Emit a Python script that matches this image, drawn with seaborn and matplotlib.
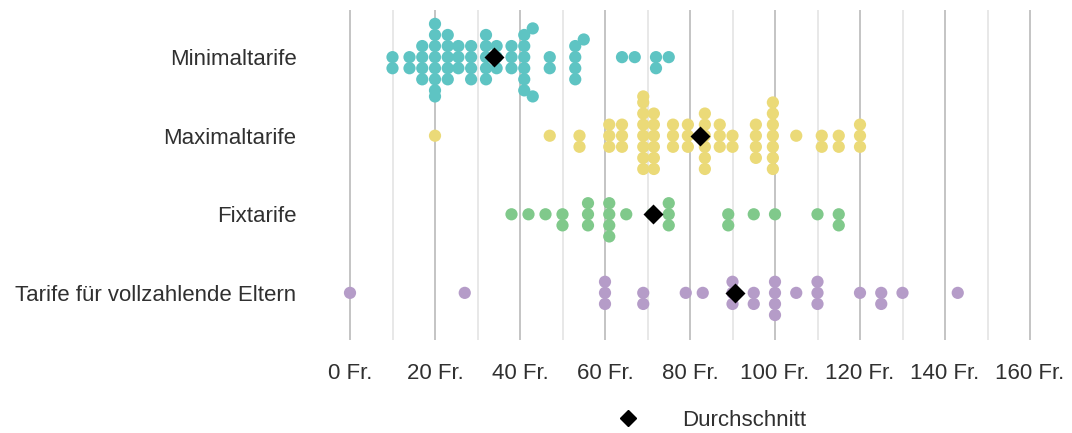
import numpy as np
import pandas as pd
import seaborn as sns
import matplotlib.pyplot as plt
from matplotlib.lines import Line2D
from matplotlib.collections import PathCollection
from seaborn.categorical import Beeswarm

# -------------------- Data (Fr.) --------------------
categories = ["Minimaltarife", "Maximaltarife", "Fixtarife",
              "Tarife für vollzahlende Eltern"]

min_values = [10, 14, 17, 20, 23, 25.5, 28.5, 32, 34.5, 38, 41, 43, 47, 53, 55, 64, 67, 72, 75]
min_counts = [2, 2, 4, 8, 5, 3, 4, 5, 3, 3, 6, 2, 2, 4, 1, 1, 1, 2, 1]

max_values = [20, 47, 54, 61, 64, 69, 71.5, 76, 79.5, 83.5, 87, 90, 95.5, 99.5, 105, 111, 115, 120]
max_counts = [1, 1, 2, 3, 3, 8, 6, 3, 3, 6, 3, 2, 4, 7, 1, 2, 2, 3]

fix_values = [38, 42, 46, 50, 56, 61, 65, 71, 75, 89, 95, 100, 110, 115]
fix_counts = [1, 1, 1, 2, 3, 4, 1, 1, 3, 2, 1, 1, 1, 2]

voll_values = [0, 27, 60, 69, 79, 83, 90, 95, 100, 105, 110, 120, 125, 130, 143]
voll_counts = [1, 1, 3, 2, 1, 1, 3, 2, 4, 1, 3, 1, 2, 1, 1]

colors = ["#5EC4C3", "#EBDA78", "#80C98B", "#B59CC8"]

x_ticks = list(range(0, 161, 20))
x_labels = [f"{t} Fr." for t in x_ticks]

DOT_SIZE = 8.8     # drawn marker diameter (pt)
SWARM_SIZE = 7.6   # spacing used for the swarm, a bit tighter so dots touch

# -------------------- Build long table --------------------
frames = []
for cat, vals, cnts in zip(categories,
                           [min_values, max_values, fix_values, voll_values],
                           [min_counts, max_counts, fix_counts, voll_counts]):
    frames.append(pd.DataFrame({"kategorie": cat,
                                "tarif": np.repeat(vals, cnts)}))
df = pd.concat(frames, ignore_index=True)

# -------------------- Plot --------------------
sns.set_theme(style="white")
plt.rcParams["font.family"] = ["Liberation Sans", "DejaVu Sans"]

fig = plt.figure(figsize=(10.72, 4.33), dpi=100)
ax = fig.add_axes([316 / 1072, 1 - 340 / 433, 748 / 1072, 330 / 433])
ax.set_xlim(-8, 168)
ax.set_ylim(3.6, -0.6)

sns.swarmplot(data=df, x="tarif", y="kategorie", order=categories,
              hue="kategorie", hue_order=categories,
              palette=dict(zip(categories, colors)),
              size=DOT_SIZE, linewidth=0, legend=False, warn_thresh=1, ax=ax)

# wider swarm than seaborn's default 0.8, and slightly overlapping dots
swarm = Beeswarm(width=1.0, orient="y", warn_thresh=1)

def swarm_draw(points, renderer, center):
    points.set_sizes([SWARM_SIZE ** 2])
    swarm(points, center)
    points.set_sizes([DOT_SIZE ** 2])
    PathCollection.draw(points, renderer)

for pts in ax.collections:
    center = pts.get_offsets()[0, 1]
    pts.draw = (lambda r, p=pts, c=center: swarm_draw(p, r, c))

sns.pointplot(data=df, x="tarif", y="kategorie", order=categories,
              estimator="mean", errorbar=None, color="black",
              marker="D", markersize=8, linestyle="none", ax=ax)
for line in ax.lines:
    line.set_zorder(10)

ax.set_xlim(-8, 168)
ax.set_ylim(3.6, -0.6)

ax.set_xticks(x_ticks)
ax.set_xticklabels(x_labels)
ax.set_xticks(range(10, 160, 20), minor=True)
ax.grid(axis="x", which="major", color="#c4c4c4", lw=1.4)
ax.grid(axis="x", which="minor", color="#e8e8e8", lw=1.4)
ax.grid(axis="y", visible=False)
ax.set_axisbelow(True)
ax.tick_params(axis="both", which="both", length=0, labelsize=16,
               labelcolor="#303030")
ax.tick_params(axis="x", pad=16.5)
ax.tick_params(axis="y", pad=14)
ax.set_xlabel("")
ax.set_ylabel("")
sns.despine(ax=ax, left=True, bottom=True)

handle = Line2D([], [], marker="D", color="black", linestyle="none", markersize=8)
fig.legend([handle], ["Durchschnitt"], loc="center",
           bbox_to_anchor=(706 / 1072, 1 - 420 / 433), frameon=False,
           fontsize=16, handletextpad=1.4, labelcolor="#303030")

fig.savefig("out.png", dpi=100)
